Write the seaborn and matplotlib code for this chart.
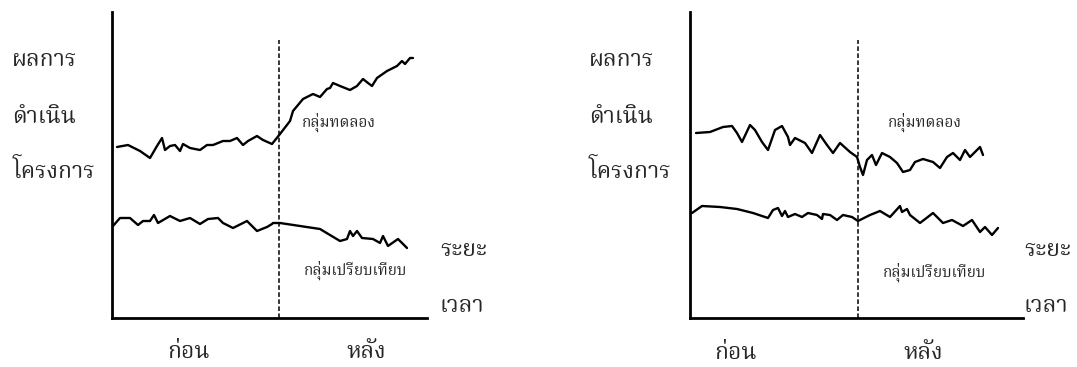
import matplotlib
matplotlib.use("Agg")
import matplotlib.pyplot as plt
from matplotlib import font_manager
import seaborn as sns
import pandas as pd
from fontTools.ttLib import TTFont

# ---- data (time units along x, score units along y) ----
# left panel: experimental group climbs after the intervention
left_exp_x = [5, 16, 28, 38, 45, 50, 53, 58, 63, 68, 71, 78, 88, 95, 101, 111, 118, 125, 131, 136,
              145, 151, 160, 168, 178, 181, 191, 201, 208, 215, 218, 221, 228, 238, 245, 251, 256,
              260, 265, 275, 285, 290, 293, 298, 301]
left_exp_y = [171, 173, 167, 160, 172, 180, 168, 172, 173, 167, 174, 170, 168, 173, 173, 177, 177, 180,
              173, 177, 182, 178, 174, 184, 197, 207, 219, 224, 221, 229, 230, 235, 232, 228, 232, 239,
              235, 232, 240, 247, 252, 257, 254, 260, 260]
left_ctl_x = [1, 8, 18, 26, 31, 38, 42, 46, 58, 68, 78, 88, 96, 106, 111, 121, 135, 145, 155, 160, 161,
              168, 208, 228, 235, 238, 241, 245, 250, 261, 268, 271, 276, 286, 295]
left_ctl_y = [92, 100, 100, 93, 97, 97, 103, 95, 102, 97, 100, 94, 99, 100, 95, 90, 97, 87, 91, 94, 95,
              95, 89, 77, 79, 87, 82, 87, 80, 79, 75, 82, 72, 79, 70]

# right panel: experimental group drops, control group stays flat
right_exp_x = [6, 20, 33, 42, 47, 52, 60, 65, 72, 78, 85, 92, 98, 100, 105, 115, 122, 130, 137, 143,
               150, 160, 167, 170, 173, 177, 182, 186, 192, 200, 207, 213, 220, 225, 233, 243, 250,
               257, 263, 270, 275, 280, 285, 290, 293]
right_exp_y = [185, 186, 191, 192, 185, 176, 193, 188, 176, 168, 188, 192, 181, 173, 180, 175, 165, 183,
               173, 165, 175, 166, 161, 151, 143, 158, 163, 153, 165, 161, 155, 146, 148, 156, 159, 156,
               150, 161, 165, 158, 168, 161, 166, 171, 163]
right_ctl_x = [2, 12, 30, 47, 63, 78, 83, 88, 92, 95, 98, 105, 112, 118, 127, 132, 133, 140, 147, 153,
               162, 168, 180, 190, 200, 210, 212, 217, 220, 230, 243, 253, 262, 273, 282, 290, 295,
               302, 308]
right_ctl_y = [105, 112, 111, 109, 105, 100, 108, 110, 102, 107, 101, 104, 101, 105, 103, 99, 104, 103,
               98, 103, 101, 97, 103, 107, 101, 112, 106, 109, 103, 95, 105, 95, 98, 92, 98, 86, 91,
               83, 90]

y_words = ["ผลการ", "ดำเนิน", "โครงการ"]
x_words = ["ระยะ", "เวลา"]
period_labels = ["ก่อน", "หลัง"]
group_labels = ["กลุ่มทดลอง", "กลุ่มเปรียบเทียบ"]


def thai_family():
    # pick an installed font that actually has Thai glyphs
    found = []
    for f in font_manager.fontManager.ttflist:
        try:
            cmap = TTFont(f.fname, fontNumber=0, lazy=True).getBestCmap()
        except Exception:
            continue
        if cmap and 0x0E01 in cmap and 0x0E33 in cmap:
            found.append(f.name)
    prefer = ["Laksaman", "Norasi", "Noto Serif Thai", "Noto Sans Thai Looped", "Loma", "Garuda",
              "Sawasdee", "Noto Sans Thai", "Kinnari", "Umpush"]
    for name in prefer:
        if name in found:
            return name
    return found[0] if found else "DejaVu Sans"


sns.set_style("white")
thai = thai_family()
plt.rcParams["font.family"] = [thai, "DejaVu Sans"]

W, H = 1077, 367
fig = plt.figure(figsize=(W / 100, H / 100), dpi=100)


def px_axes(left, top, right, bottom):
    return fig.add_axes([left / W, 1 - bottom / H, (right - left) / W, (bottom - top) / H])


def px_text(x, y, s, **kw):
    fig.text(x / W, 1 - y / H, s, **kw)


panels = [
    dict(box=(112, 12, 427, 318), split=167, top=278,
         exp=(left_exp_x, left_exp_y), ctl=(left_ctl_x, left_ctl_y),
         ytext_x=12, xtext_x=440, per=((188, 352), (366, 352)),
         grp=((302, 122), (304, 270))),
    dict(box=(690, 12, 1023, 318), split=168, top=278,
         exp=(right_exp_x, right_exp_y), ctl=(right_ctl_x, right_ctl_y),
         ytext_x=589, xtext_x=1024, per=((735, 353), (923, 353)),
         grp=((888, 122), (883, 272))),
]

for p in panels:
    l, t, r, b = p["box"]
    ax = px_axes(l, t, r, b)
    for xs, ys in (p["exp"], p["ctl"]):
        df = pd.DataFrame({"time": xs, "score": ys})
        sns.lineplot(data=df, x="time", y="score", ax=ax, color="black", linewidth=1.7,
                     estimator=None, sort=False, solid_joinstyle="round", solid_capstyle="round")
    ax.plot([p["split"], p["split"]], [0, p["top"]], color="black", linewidth=1.1,
            linestyle=(0, (3, 1.6)))
    ax.set_xlim(0, r - l)
    ax.set_ylim(0, b - t)
    ax.set_xticks([])
    ax.set_yticks([])
    ax.set_xlabel("")
    ax.set_ylabel("")
    for side in ("top", "right"):
        ax.spines[side].set_visible(False)
    for side in ("left", "bottom"):
        ax.spines[side].set_linewidth(2)
        ax.spines[side].set_color("black")

    for word, y in zip(y_words, (60, 117, 172)):
        px_text(p["ytext_x"], y, word, fontsize=16.5, va="center", ha="left")
    for word, y in zip(x_words, (250, 306)):
        px_text(p["xtext_x"], y, word, fontsize=16.5, va="center", ha="left")
    for word, (x, y) in zip(period_labels, p["per"]):
        px_text(x, y, word, fontsize=16.5, va="center", ha="center")
    for word, (x, y) in zip(group_labels, p["grp"]):
        px_text(x, y, word, fontsize=11, va="center", ha="left")

fig.savefig("out.png", dpi=100)
